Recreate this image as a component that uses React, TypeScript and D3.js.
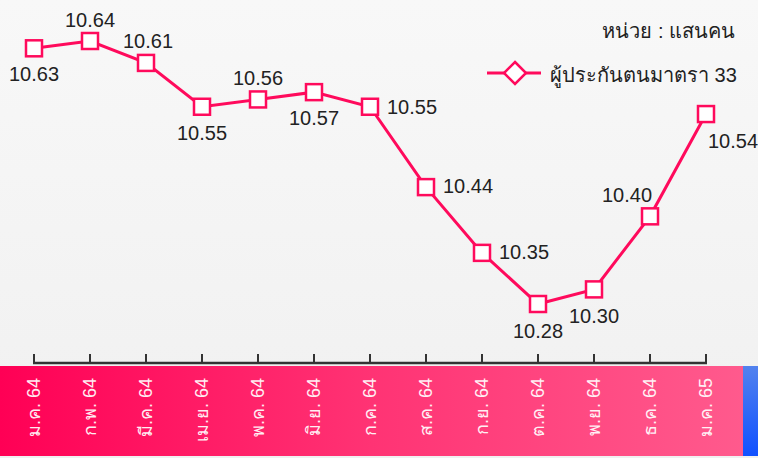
import React from 'react';
import * as d3 from 'd3';

// เดือน (แกน x)
const months = [
  'ม.ค. 64', 'ก.พ. 64', 'มี.ค. 64', 'เม.ย. 64', 'พ.ค. 64', 'มิ.ย. 64', 'ก.ค. 64',
  'ส.ค. 64', 'ก.ย. 64', 'ต.ค. 64', 'พ.ย. 64', 'ธ.ค. 64', 'ม.ค. 65',
];
// ผู้ประกันตนมาตรา 33 (แสนคน)
const insured = [10.63, 10.64, 10.61, 10.55, 10.56, 10.57, 10.55, 10.44, 10.35, 10.28, 10.30, 10.40, 10.54];

const seriesName = 'ผู้ประกันตนมาตรา 33';
const unitText = 'หน่วย : แสนคน';

// where each value label sits relative to its marker: [dx, dy, anchor]
const labelPlace: [number, number, string][] = [
  [0, 33, 'middle'], [0, -14, 'middle'], [2, -15, 'middle'], [0, 33, 'middle'],
  [0, -14, 'middle'], [0, 33, 'middle'], [17, 7, 'start'], [17, 6, 'start'],
  [17, 6, 'start'], [0, 34, 'middle'], [0, 34, 'middle'], [-23, -14, 'middle'],
  [2, 34, 'start'],
];

const W = 758;
const H = 458;
const PINK = '#ff0a5c';
const FONT = "'Liberation Sans', Arial, 'Noto Sans', sans-serif";

export default function App() {
  const x = d3.scalePoint<string>().domain(months).range([34, 706]);
  const y = d3.scaleLinear().domain([10.28, 10.64]).range([304, 41]);

  const line = d3.line<number>()
    .x((_, i) => x(months[i])!)
    .y(d => y(d));

  const axisY = 363;
  const bandTop = 366;
  const bandBottom = 456;

  return (
    <svg width={W} height={H} style={{ position: 'absolute', left: 0, top: 0 }} fontFamily={FONT}>
      <defs>
        <linearGradient id="bg" x1="0" y1="0" x2="0" y2="1">
          <stop offset="0" stopColor="#f8f8f8" />
          <stop offset="1" stopColor="#f0f0f0" />
        </linearGradient>
        <linearGradient id="band" x1="0" y1="0" x2="1" y2="0">
          <stop offset="0" stopColor="#ff0055" />
          <stop offset="0.5" stopColor="#ff3374" />
          <stop offset="1" stopColor="#ff5a8d" />
        </linearGradient>
        <linearGradient id="blue" x1="0" y1="0" x2="0" y2="1">
          <stop offset="0" stopColor="#5282ee" />
          <stop offset="1" stopColor="#1050ff" />
        </linearGradient>
      </defs>

      <rect width={W} height={H} fill="url(#bg)" />
      <rect x={0} y={bandTop} width={743} height={bandBottom - bandTop} fill="url(#band)" />
      <rect x={743} y={bandTop} width={W - 743} height={bandBottom - bandTop} fill="url(#blue)" />

      {/* x axis */}
      <line x1={x(months[0])! - 1} x2={x(months[months.length - 1])! + 1} y1={axisY} y2={axisY}
        stroke="#333" strokeWidth={2.5} />
      {months.map(m => (
        <line key={m + 't'} x1={x(m)} x2={x(m)} y1={axisY - 9} y2={axisY} stroke="#333" strokeWidth={2} />
      ))}
      {months.map(m => (
        <text key={m} transform={`translate(${x(m)},378) rotate(-90)`} textAnchor="end" dy="0.35em"
          fill="#fff" fontSize={18} opacity={0.92}>
          {m}
        </text>
      ))}

      {/* series */}
      <path d={line(insured) ?? ''} fill="none" stroke={PINK} strokeWidth={3} />
      {insured.map((v, i) => (
        <rect key={i} x={x(months[i])! - 8} y={y(v) - 8} width={16} height={16}
          fill="#fff" stroke={PINK} strokeWidth={2.5} />
      ))}
      {insured.map((v, i) => {
        const [dx, dy, anchor] = labelPlace[i];
        return (
          <text key={'l' + i} x={x(months[i])! + dx} y={y(v) + dy} textAnchor={anchor}
            fontSize={20} fill="#222">
            {v.toFixed(2)}
          </text>
        );
      })}

      {/* unit + legend */}
      <text x={735} y={38} textAnchor="end" fontSize={20} fill="#222">{unitText}</text>
      <line x1={487} x2={541} y1={73} y2={73} stroke={PINK} strokeWidth={3} />
      <path d="M515,62 L526,73 L515,84 L504,73 Z" fill="#fff" stroke={PINK} strokeWidth={2.5} />
      <text x={550} y={82} fontSize={20} fill="#222">{seriesName}</text>
    </svg>
  );
}
